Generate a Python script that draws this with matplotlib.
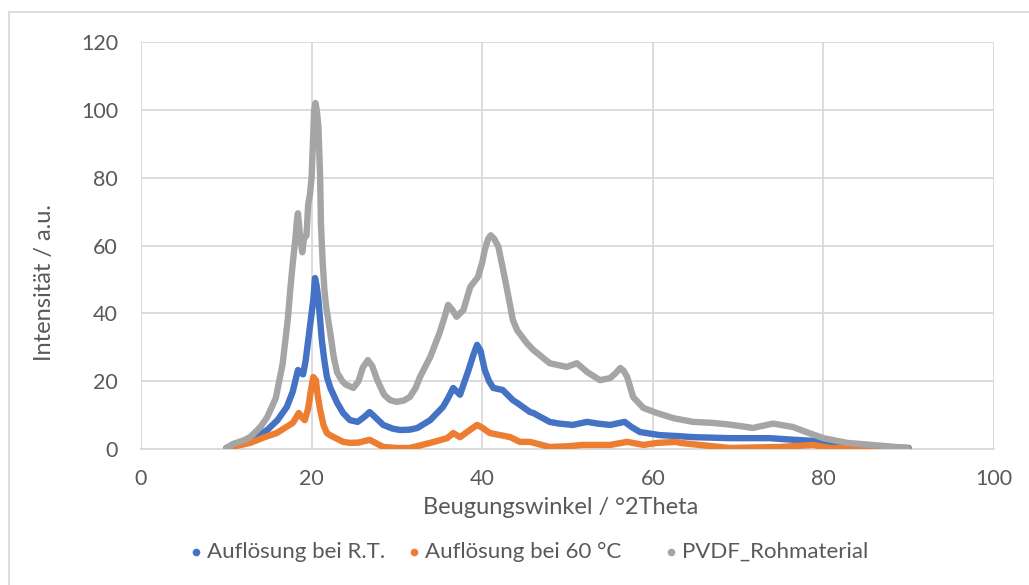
import matplotlib
matplotlib.use("Agg")
import matplotlib.pyplot as plt
from matplotlib.patches import Rectangle
from matplotlib.lines import Line2D

plt.rcParams['font.family'] = ['Lato', 'DejaVu Sans']

# Diffraction angle (°2Theta) and intensity for each sample
rt_x = [10, 11, 12, 13, 14.8, 16, 17.1, 17.8, 18.4, 18.7, 19.0, 19.3, 19.6, 19.9, 20.2, 20.4,
        20.6, 20.8, 21.0, 21.2, 21.5, 21.8, 22.2, 23.0, 23.7, 24.5, 25.4, 26.2, 26.8, 27.4,
        28.4, 29.5, 30.4, 31.5, 32.4, 33.9, 35.4, 36.0, 36.6, 37.0, 37.4, 38.4, 39.0, 39.4,
        39.8, 40.3, 40.8, 41.3, 42.4, 43.6, 44.1, 45.6, 46.0, 47.9, 49.0, 50.6, 52.3, 53.5,
        55.0, 56.7, 57.5, 58.5, 60.8, 63.0, 64.7, 69.0, 73.7, 76.0, 78.8, 80.0, 83.0, 86.0, 90.0]
rt_y = [0.3, 1.0, 2.0, 3.0, 5.6, 8.5, 12.4, 17.0, 23.3, 22.5, 22.0, 26.0, 32.0, 38.0, 44.0, 50.4,
        48.0, 44.0, 38.0, 32.0, 26.0, 21.2, 18.0, 13.6, 10.6, 8.5, 8.0, 9.5, 10.9, 9.5,
        7.1, 6.0, 5.6, 5.7, 6.2, 8.5, 12.4, 15.0, 18.0, 17.0, 16.0, 23.3, 28.0, 30.7,
        29.0, 23.3, 20.0, 18.0, 17.4, 14.4, 13.6, 10.9, 10.6, 8.0, 7.5, 7.1, 8.0, 7.5,
        7.1, 8.0, 6.5, 5.0, 4.1, 3.8, 3.5, 3.2, 3.2, 2.8, 2.4, 1.8, 1.2, 0.8, 0.3]

c60_x = [10, 11, 12.8, 14.5, 15.9, 17.8, 18.5, 18.8, 19.2, 19.6, 19.9, 20.2, 20.5, 20.7, 21.0,
         21.4, 21.8, 22.2, 23.7, 24.5, 25.5, 26.8, 27.5, 28.4, 30.0, 31.5, 33.9, 35.9, 36.6,
         37.4, 38.5, 39.4, 40.0, 40.9, 42.1, 43.3, 44.4, 45.6, 47.9, 50.0, 51.8, 55.0, 57.0,
         58.9, 60.5, 62.8, 63.2, 65.5, 69.0, 74.9, 78.8, 80.8, 85.0, 90.0]
c60_y = [0.3, 0.8, 1.8, 3.5, 4.7, 7.7, 10.6, 9.5, 8.5, 12.0, 17.0, 21.2, 20.3, 16.0, 11.5,
         7.0, 4.7, 4.0, 2.1, 1.8, 1.9, 2.7, 1.8, 0.6, 0.3, 0.3, 1.8, 3.2, 4.7,
         3.5, 5.5, 7.1, 6.3, 4.7, 4.1, 3.5, 2.1, 2.1, 0.6, 0.8, 1.2, 1.2, 2.1,
         1.2, 1.8, 2.1, 1.8, 1.2, 0.3, 0.6, 1.2, 0.3, 0.2, 0.0]

raw_x = [10, 10.8, 12, 12.8, 14, 14.8, 15.8, 16.6, 17.2, 17.5, 17.8, 18.1, 18.3, 18.4, 18.6,
         18.9, 19.1, 19.4, 19.6, 19.8, 20.0, 20.15, 20.3, 20.45, 20.6, 20.8, 21.0, 21.1, 21.3,
         21.5, 21.7, 22.2, 22.6, 23.0, 23.6, 24.0, 24.9, 25.5, 26.0, 26.6, 27.1, 27.7, 28.5,
         29.2, 30.0, 30.8, 31.5, 32.2, 32.7, 33.9, 35.0, 35.6, 36.0, 36.5, 37.0, 37.8, 38.6,
         39.5, 40.0, 40.3, 40.7, 41.0, 41.4, 41.9, 42.7, 43.6, 44.1, 45.3, 46.0, 47.9, 49.9,
         51.1, 52.3, 53.8, 55.0, 55.7, 56.2, 56.6, 57.0, 57.7, 58.9, 60.5, 62.4, 64.7, 67.0,
         69.0, 71.0, 71.7, 74.1, 76.4, 78.0, 80.0, 82.8, 86.6, 89.8]
raw_y = [0.3, 1.5, 2.5, 3.5, 6.5, 9.4, 15.0, 25.0, 38.0, 47.0, 55.0, 62.0, 68.0, 69.5, 64.0,
         58.0, 62.0, 63.0, 72.0, 75.0, 80.0, 90.0, 100.0, 102.0, 100.0, 95.0, 80.0, 66.0, 55.0,
         47.0, 42.0, 34.0, 27.0, 22.5, 20.0, 19.0, 18.0, 20.0, 24.0, 26.2, 24.5, 20.3, 16.0,
         14.4, 13.9, 14.3, 15.3, 18.0, 21.2, 27.1, 34.2, 39.0, 42.5, 41.0, 39.0, 41.0, 47.8,
         50.7, 55.0, 58.7, 62.0, 63.0, 62.0, 59.6, 49.8, 38.0, 35.0, 31.0, 29.2, 25.3, 24.2,
         25.3, 22.7, 20.3, 20.9, 22.5, 23.9, 23.0, 21.2, 15.3, 12.1, 10.6, 9.1, 8.0, 7.7,
         7.2, 6.5, 6.2, 7.5, 6.5, 5.0, 3.2, 1.8, 1.0, 0.3]

series_labels = ["Auflösung bei R.T.", "Auflösung bei 60 °C", "PVDF_Rohmaterial"]
series_colors = ["#4472C4", "#ED7D31", "#A5A5A5"]

x_ticks = [0, 20, 40, 60, 80, 100]
y_ticks = [0, 20, 40, 60, 80, 100, 120]

text_color = "#595959"
grid_color = "#D9D9D9"

fig = plt.figure(figsize=(10.29, 5.85), dpi=100)
ax = fig.add_axes([141 / 1029, 1 - 449 / 585, (994 - 141) / 1029, (449 - 42) / 585])

for xs, ys, col in zip([rt_x, c60_x, raw_x], [rt_y, c60_y, raw_y], series_colors):
    ax.plot(xs, ys, color=col, lw=4.6, solid_capstyle="round",
            solid_joinstyle="round", zorder=3)

ax.set_xlim(0, 100)
ax.set_ylim(0, 120)
ax.set_xticks(x_ticks)
ax.set_yticks(y_ticks)
ax.grid(True, color=grid_color, lw=1.3)
ax.set_axisbelow(True)
for side in ["top", "right", "left"]:
    ax.spines[side].set_visible(False)
ax.spines["bottom"].set_color(grid_color)
ax.spines["bottom"].set_linewidth(1.3)
ax.tick_params(length=0, labelsize=15.5, colors=text_color)
ax.tick_params(axis="y", pad=16.5)
ax.tick_params(axis="x", pad=14.5)

fig.text(561 / 1029, 1 - 508 / 585, "Beugungswinkel / °2Theta", ha="center", va="center",
         fontsize=17, color=text_color)
fig.text(45 / 1029, 1 - 282 / 585, "Intensität / a.u.", ha="center", va="center",
         rotation=90, fontsize=17, color=text_color)

# legend row below the axis title
legend_y = 1 - 552 / 585
marker_x = [196, 414, 671]
for mx, lab, col in zip(marker_x, series_labels, series_colors):
    fig.add_artist(Line2D([mx / 1029], [legend_y], marker="o", ms=5.5, color=col,
                          markeredgewidth=0, linestyle="none"))
    fig.text((mx + 11) / 1029, legend_y, lab, ha="left", va="center",
             fontsize=16, color=text_color)

# chart area outline
fig.add_artist(Rectangle((8.5 / 1029, -0.1), 1.2, (585 - 12) / 585 + 0.1,
                         transform=fig.transFigure, fill=False,
                         edgecolor=grid_color, lw=1.3, clip_on=False))

fig.savefig("out.png", dpi=100, facecolor="white")
